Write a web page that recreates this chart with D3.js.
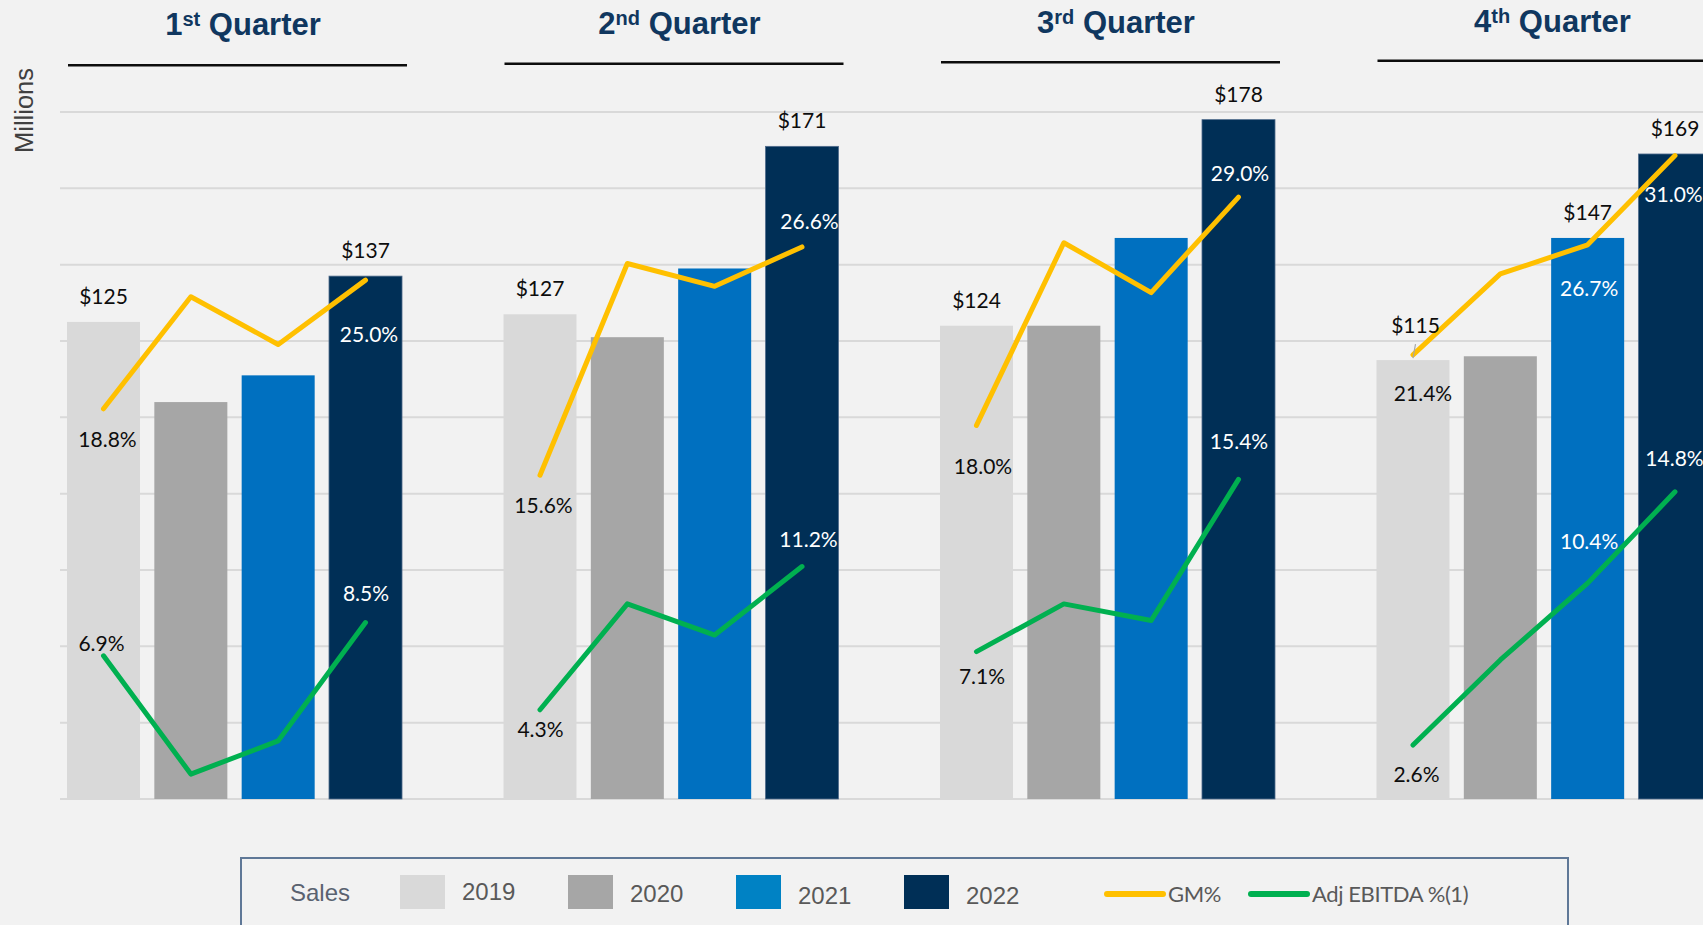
<!DOCTYPE html>
<html>
<head>
<meta charset="utf-8">
<script src="https://cdn.jsdelivr.net/npm/d3@7"></script>
<style>
  html, body { margin: 0; padding: 0; background: #f2f2f2; }
  svg { display: block; }
</style>
</head>
<body>
<div id="chart"></div>
<script>
const quarters = ["1", "2", "3", "4"]
const suffixes = ["st", "nd", "rd", "th"]
const years = ["2019", "2020", "2021", "2022"]

// sales ($ millions), Q1..Q4
const sales2019 = [125, 127, 124, 115]
const sales2020 = [104, 121, 124, 116]
const sales2021 = [111, 139, 147, 147]
const sales2022 = [137, 171, 178, 169]

// gross margin %, Q1..Q4
const gm2019 = [18.8, 15.6, 18.0, 21.4]
const gm2020 = [24.2, 25.8, 26.8, 25.3]
const gm2021 = [21.9, 24.7, 24.4, 26.7]
const gm2022 = [25.0, 26.6, 29.0, 31.0]

// adj EBITDA %, Q1..Q4
const ebitda2019 = [6.9, 4.3, 7.1, 2.6]
const ebitda2020 = [1.2, 9.4, 9.4, 6.7]
const ebitda2021 = [2.8, 7.9, 8.6, 10.4]
const ebitda2022 = [8.5, 11.2, 15.4, 14.8]

// which bars carry a $ label
const salesLabelled = [[0, "2019"], [0, "2022"], [1, "2019"], [1, "2022"],
  [2, "2019"], [2, "2022"], [3, "2019"], [3, "2021"], [3, "2022"]]

const sales = { "2019": sales2019, "2020": sales2020, "2021": sales2021, "2022": sales2022 }
const gm = { "2019": gm2019, "2020": gm2020, "2021": gm2021, "2022": gm2022 }
const ebitda = { "2019": ebitda2019, "2020": ebitda2020, "2021": ebitda2021, "2022": ebitda2022 }

// label placement (hand nudged like the original slide)
const pctLabels = [
  { s: "gm", q: 0, yr: "2019", dx: 4, dy: 30.5 },
  { s: "gm", q: 0, yr: "2022", dx: 3.5, dy: 55 },
  { s: "eb", q: 0, yr: "2019", dx: -2, dy: -12.5 },
  { s: "eb", q: 0, yr: "2022", dx: 0.5, dy: -29 },
  { s: "gm", q: 1, yr: "2019", dx: 3.5, dy: 30 },
  { s: "gm", q: 1, yr: "2022", dx: 7.5, dy: -25.5 },
  { s: "eb", q: 1, yr: "2019", dx: 0.5, dy: 20 },
  { s: "eb", q: 1, yr: "2022", dx: 6.5, dy: -27 },
  { s: "gm", q: 2, yr: "2019", dx: 6.5, dy: 41 },
  { s: "gm", q: 2, yr: "2022", dx: 1.5, dy: -23 },
  { s: "eb", q: 2, yr: "2019", dx: 5.5, dy: 25 },
  { s: "eb", q: 2, yr: "2022", dx: 0.5, dy: -38 },
  { s: "gm", q: 3, yr: "2019", dx: 10, dy: 38.5 },
  { s: "gm", q: 3, yr: "2021", dx: 1.5, dy: 43.5 },
  { s: "gm", q: 3, yr: "2022", dx: -1.5, dy: 39 },
  { s: "eb", q: 3, yr: "2019", dx: 3.5, dy: 30 },
  { s: "eb", q: 3, yr: "2021", dx: 1.5, dy: -41.5 },
  { s: "eb", q: 3, yr: "2022", dx: -0.5, dy: -33 }
]

const barColors = { "2019": "#d9d9d9", "2020": "#a6a6a6", "2021": "#0070c0", "2022": "#002f56" }
const legendColors = { "2019": "#d9d9d9", "2020": "#a6a6a6", "2021": "#0082c4", "2022": "#002f56" }
const lineColors = { gm: "#ffc000", eb: "#00b050" }

const width = 1703
const height = 925
const labelFont = "Lato, 'Open Sans', sans-serif"

const svg = d3.select("#chart").append("svg")
  .attr("width", width)
  .attr("height", height)

svg.append("rect")
  .attr("width", width)
  .attr("height", height)
  .attr("fill", "#f2f2f2")

const y = d3.scaleLinear().domain([0, 180]).range([799, 112])
const yPct = d3.scaleLinear().domain([0, 33.1]).range([799, 112])
const x0 = d3.scaleBand().domain(quarters).range([67, 1711.5]).paddingInner(0.2325)
const x1 = d3.scaleBand().domain(years).range([0, x0.bandwidth()]).paddingInner(0.164)
const cx = (q, yr) => x0(quarters[q]) + x1(yr) + x1.bandwidth() / 2

// gridlines
svg.append("g")
  .selectAll("line")
  .data(y.ticks(9))
  .join("line")
  .attr("x1", 60)
  .attr("x2", width)
  .attr("y1", d => y(d))
  .attr("y2", d => y(d))
  .attr("stroke", "#d9d9d9")
  .attr("stroke-width", 2)

// y title
svg.append("text")
  .attr("transform", "translate(32.5,110.5) rotate(-90)")
  .attr("text-anchor", "middle")
  .attr("font-family", "'Liberation Sans', Arial, sans-serif")
  .attr("font-size", 25.5)
  .attr("fill", "#404040")
  .text("Millions")

// bars
const barData = []
quarters.forEach((q, i) => {
  years.forEach(yr => barData.push({ q: i, yr, v: sales[yr][i] }))
})

svg.append("g")
  .selectAll("rect")
  .data(barData)
  .join("rect")
  .attr("x", d => x0(quarters[d.q]) + x1(d.yr))
  .attr("y", d => y(d.v))
  .attr("width", x1.bandwidth())
  .attr("height", d => y(0) - y(d.v))
  .attr("fill", d => barColors[d.yr])
  .attr("stroke", d => d.yr === "2022" ? "#506c8c" : "none")
  .attr("stroke-width", 0.8)

// gm / ebitda lines, one segment set per quarter
const line = d3.line()
const gLines = svg.append("g")
  .attr("fill", "none")
  .attr("stroke-width", 5)
  .attr("stroke-linecap", "round")
  .attr("stroke-linejoin", "round")

quarters.forEach((q, i) => {
  gLines.append("path")
    .attr("stroke", lineColors.eb)
    .attr("d", line(years.map(yr => [cx(i, yr), yPct(ebitda[yr][i])])))
  gLines.append("path")
    .attr("stroke", lineColors.gm)
    .attr("d", line(years.map(yr => [cx(i, yr), yPct(gm[yr][i])])))
})

// $ labels
const gSales = svg.append("g")
  .attr("font-family", labelFont)
  .attr("font-size", 21)
  .attr("fill", "#0d0d0d")
  .attr("text-anchor", "middle")

salesLabelled.forEach(([q, yr]) => {
  const v = sales[yr][q]
  const lifted = q === 3 && yr === "2019"
  gSales.append("text")
    .attr("x", cx(q, yr) + (lifted ? 2.5 : 0))
    .attr("y", y(v) - (lifted ? 27 : 18))
    .text("$" + v)
  if (lifted) {
    svg.append("line")
      .attr("x1", cx(q, yr))
      .attr("y1", y(v) - 2)
      .attr("x2", cx(q, yr) + 2.5)
      .attr("y2", y(v) - 16)
      .attr("stroke", "#a6a6a6")
      .attr("stroke-width", 1.2)
  }
})

// % labels
const fmt = d3.format(".1f")
svg.append("g")
  .attr("font-family", labelFont)
  .attr("font-size", 21)
  .attr("text-anchor", "middle")
  .selectAll("text")
  .data(pctLabels)
  .join("text")
  .attr("x", d => cx(d.q, d.yr) + d.dx)
  .attr("y", d => yPct((d.s === "gm" ? gm : ebitda)[d.yr][d.q]) + d.dy)
  .attr("dy", "0.35em")
  .attr("fill", d => (d.yr === "2021" || d.yr === "2022") ? "#ffffff" : "#0d0d0d")
  .text(d => fmt((d.s === "gm" ? gm : ebitda)[d.yr][d.q]) + "%")

// quarter titles + rules
quarters.forEach((q, i) => {
  const left = x0(q)
  const mid = left + x0.bandwidth() / 2 + 8.5
  const t = svg.append("text")
    .attr("x", mid)
    .attr("y", 35 - 1.1 * i)
    .attr("text-anchor", "middle")
    .attr("font-family", "'Liberation Sans', Arial, sans-serif")
    .attr("font-weight", "bold")
    .attr("font-size", 31)
    .attr("fill", "#10375f")
  t.append("tspan").text(q)
  t.append("tspan").attr("font-size", 20).attr("dy", -9).text(suffixes[i])
  t.append("tspan").attr("dy", 9).text(" Quarter")

  svg.append("line")
    .attr("x1", left + 1)
    .attr("x2", left + x0.bandwidth() + 5)
    .attr("y1", 65.3 - 1.5 * i)
    .attr("y2", 65.3 - 1.5 * i)
    .attr("stroke", "#0d0d0d")
    .attr("stroke-width", 2.5)
})

// legend
const legend = svg.append("g")
legend.append("rect")
  .attr("x", 241)
  .attr("y", 858)
  .attr("width", 1327)
  .attr("height", 120)
  .attr("fill", "none")
  .attr("stroke", "#5f7897")
  .attr("stroke-width", 2)

legend.append("text")
  .attr("x", 290)
  .attr("y", 901)
  .attr("font-family", "'Liberation Sans', Arial, sans-serif")
  .attr("font-size", 24)
  .attr("fill", "#5a6270")
  .text("Sales")

const legendBaselines = [899.5, 901.5, 904, 904]
years.forEach((yr, i) => {
  const lx = 400 + i * 168
  legend.append("rect")
    .attr("x", lx)
    .attr("y", 875)
    .attr("width", 45)
    .attr("height", 34)
    .attr("fill", legendColors[yr])
  legend.append("text")
    .attr("x", lx + 62)
    .attr("y", legendBaselines[i])
    .attr("font-family", "'Liberation Sans', Arial, sans-serif")
    .attr("font-size", 24)
    .attr("fill", "#595959")
    .text(yr)
})

const lineItems = [
  { key: "gm", label: "GM%", x: 1107 },
  { key: "eb", label: "Adj EBITDA %(1)", x: 1251 }
]
lineItems.forEach(d => {
  legend.append("line")
    .attr("x1", d.x)
    .attr("x2", d.x + 56)
    .attr("y1", 894)
    .attr("y2", 894)
    .attr("stroke", lineColors[d.key])
    .attr("stroke-width", 6)
    .attr("stroke-linecap", "round")
  legend.append("text")
    .attr("x", d.x + 61)
    .attr("y", 902)
    .attr("font-family", labelFont)
    .attr("font-size", 22)
    .attr("letter-spacing", -0.4)
    .attr("fill", "#595959")
    .text(d.label)
})
</script>
</body>
</html>
